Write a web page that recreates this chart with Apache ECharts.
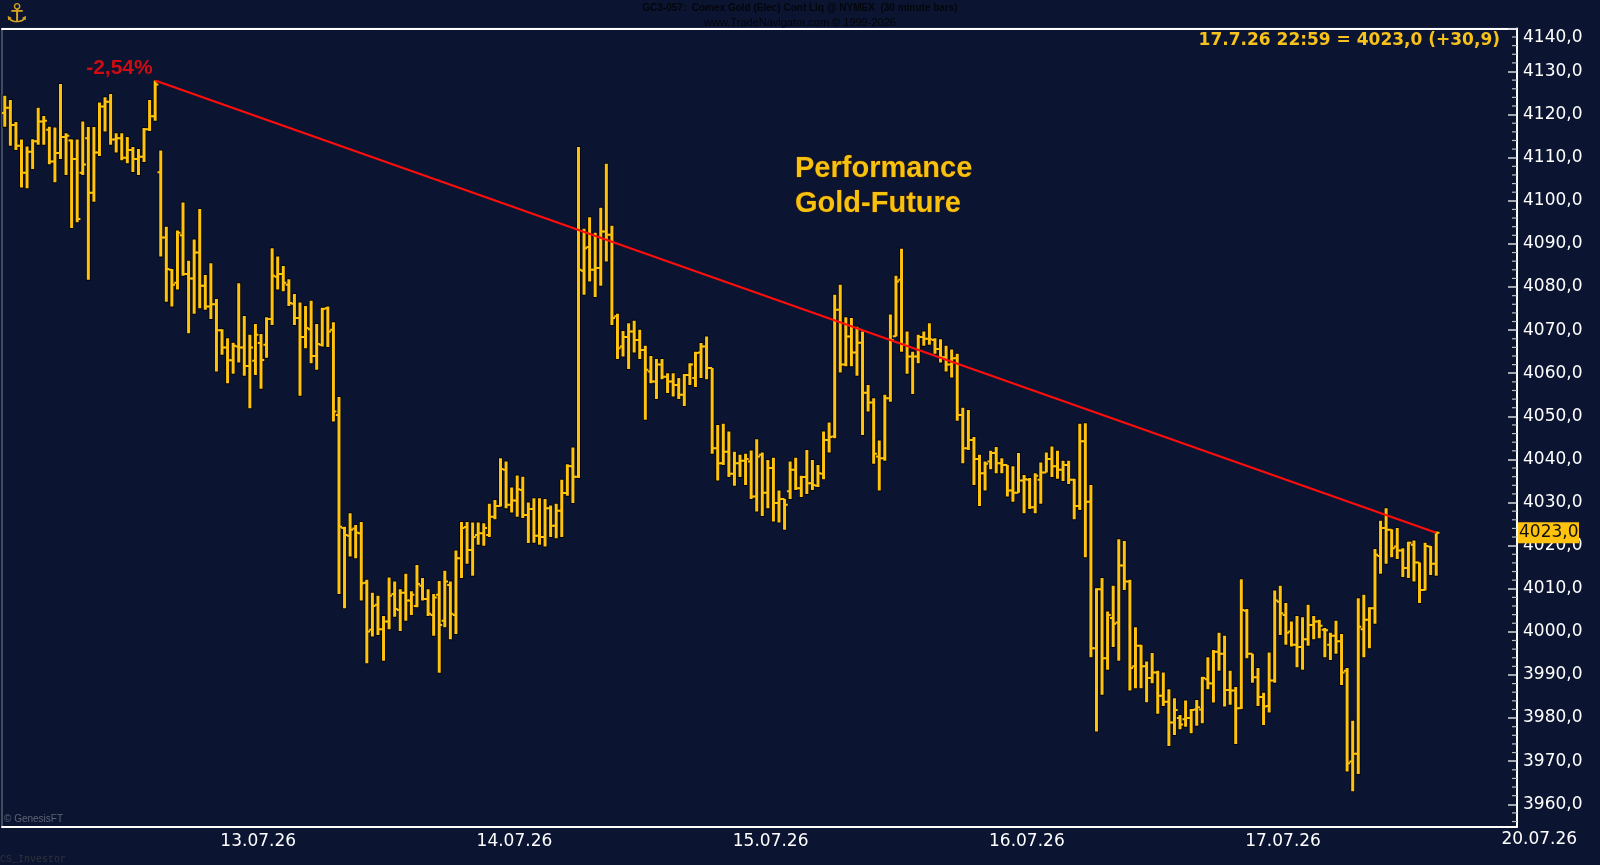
<!DOCTYPE html>
<html>
<head>
<meta charset="utf-8">
<script src="https://cdn.jsdelivr.net/npm/echarts@6/dist/echarts.min.js"></script>
<style>
html,body{margin:0;padding:0;background:#0b1531;}
#main{width:1600px;height:865px;}
</style>
</head>
<body>
<div id="main"></div>
<script>
// ---------- data (30 minute OHLC bars, Comex Gold) ----------
const opens = [
4120.4,4121.6,4117.6,4112.8,4106.5,4111.4,4113.8,4118.4,4116.5,4109.1,
4111.1,4114.8,4114.0,4109.7,4106.5,4114.5,4101.9,4111.2,4121.9,4123.0,
4114.2,4114.5,4110.0,4111.8,4109.7,4110.2,4116.6,4119.6,4106.6,4091.5,
4084.0,4081.0,4092.0,4083.0,4082.0,4088.0,4080.3,4075.5,4076.0,4070.0,
4066.0,4063.0,4066.2,4066.0,4061.7,4062.9,4067.0,4066.6,4072.6,4082.4,
4083.0,4080.5,4076.1,4072.8,4068.4,4070.2,4064.0,4066.6,4075.1,4070.1,
4050.3,4024.1,4022.3,4024.0,4022.9,4011.4,4000.5,4006.3,4000.6,4002.4,
4008.8,4005.1,4009.1,4007.3,4006.0,4010.7,4007.6,4003.9,4008.6,4002.6,
4010.9,4003.9,4017.1,4024.3,4019.0,4022.5,4022.9,4022.5,4026.7,4029.2,
4037.6,4029.5,4030.5,4032.9,4027.1,4028.5,4022.3,4022.0,4028.7,4024.6,
4028.1,4032.2,4038.4,4036.0,4083.8,4089.3,4084.0,4084.4,4092.9,4092.1,
4073.2,4066.2,4068.4,4069.7,4067.7,4065.4,4060.4,4058.1,4062.0,4059.2,
4058.1,4057.3,4055.0,4059.6,4058.9,4064.8,4066.2,4061.2,4042.6,4039.1,
4041.8,4036.7,4039.1,4039.7,4039.5,4031.4,4041.1,4032.3,4038.0,4029.9,
4030.8,4032.6,4037.6,4033.3,4035.9,4034.5,4033.9,4036.7,4044.5,4045.3,
4074.7,4062.0,4068.5,4064.8,4067.1,4055.5,4053.2,4040.7,4040.3,4054.2,
4068.6,4081.7,4066.6,4063.9,4063.9,4068.4,4068.0,4067.7,4065.6,4063.7,
4062.0,4063.5,4050.3,4042.6,4044.5,4040.1,4036.8,4039.5,4041.5,4039.1,
4038.7,4032.8,4032.3,4035.1,4035.3,4028.9,4035.3,4037.0,4040.1,4038.4,
4037.6,4038.7,4035.3,4029.2,4044.2,4030.2,3996.2,4009.9,3993.9,4003.2,
4002.2,4015.4,4011.7,3992.0,3996.8,3992.0,3989.3,3990.6,3985.2,3983.8,
3979.0,3980.0,3979.7,3980.0,3982.0,3982.0,3989.0,3988.0,3995.4,3994.9,
3986.5,3986.4,3982.3,4004.9,3994.9,3989.5,3984.9,3982.8,3988.7,4007.0,
4003.9,4000.1,3997.0,3996.5,3998.3,4001.6,4002.4,4000.5,3997.0,3999.1,
3997.8,3991.0,3969.9,3971.7,4000.6,4002.8,4005.5,4017.6,4024.1,4023.7,
4019.8,4018.9,4014.8,4020.2,4016.1,4009.7,4019.8,4015.8
];
const highs = [
4124.4,4123.4,4118.3,4114.2,4112.6,4114.3,4121.6,4119.7,4117.2,4117.0,
4127.1,4115.7,4114.2,4114.2,4118.4,4117.1,4117.1,4122.8,4124.0,4124.8,
4115.7,4115.7,4114.8,4112.5,4112.0,4116.9,4123.4,4127.9,4111.7,4094.0,
4084.2,4093.1,4099.6,4086.1,4091.0,4098.1,4082.8,4085.5,4077.2,4070.2,
4068.1,4067.1,4080.9,4073.3,4068.9,4071.4,4069.1,4073.0,4089.0,4087.1,
4084.9,4081.8,4078.4,4076.4,4075.6,4076.8,4071.4,4075.2,4075.5,4071.8,
4054.5,4024.4,4027.5,4024.8,4025.5,4012.1,4009.1,4008.4,4003.7,4012.6,
4011.7,4009.9,4013.5,4009.4,4015.5,4012.5,4009.9,4008.8,4011.8,4014.2,
4011.7,4018.9,4025.5,4025.5,4025.4,4025.4,4025.2,4029.7,4030.6,4040.3,
4039.5,4033.5,4036.3,4036.0,4030.0,4031.0,4031.0,4030.8,4029.3,4029.7,
4035.3,4038.9,4042.8,4112.5,4093.5,4096.2,4092.6,4098.4,4108.6,4094.2,
4073.8,4069.8,4071.6,4072.2,4070.1,4066.4,4064.0,4063.3,4063.3,4060.0,
4060.0,4058.9,4059.8,4062.3,4065.0,4067.0,4068.5,4061.2,4048.0,4048.3,
4046.5,4041.8,4041.1,4041.3,4042.1,4044.7,4041.6,4039.9,4040.4,4032.8,
4030.8,4039.5,4040.4,4036.2,4042.2,4039.9,4038.7,4046.5,4048.6,4078.2,
4080.5,4073.0,4072.8,4070.8,4069.7,4057.3,4054.2,4044.4,4055.0,4073.6,
4082.6,4088.9,4069.7,4065.0,4068.9,4069.7,4071.6,4068.1,4067.9,4066.4,
4065.5,4064.5,4052.0,4051.5,4045.2,4041.1,4039.5,4042.0,4042.9,4040.3,
4038.7,4038.4,4041.5,4036.4,4035.7,4036.8,4039.3,4041.6,4043.0,4042.0,
4039.7,4039.7,4035.5,4048.3,4048.4,4034.1,4010.1,4012.5,4004.7,4010.7,
4021.5,4021.1,4012.1,4001.1,3997.0,3993.1,3995.1,3991.0,3990.6,3986.7,
3984.6,3980.7,3984.1,3982.1,3984.2,3989.6,3994.1,3995.8,3999.8,3999.1,
3991.0,3987.2,4012.2,4005.3,3994.9,3991.6,3985.9,3995.2,4009.6,4010.7,
4006.7,4002.4,4003.7,4003.4,4006.3,4003.7,4002.8,4000.9,3999.8,4002.6,
3999.5,3991.6,3979.4,4007.8,4008.6,4005.7,4019.2,4025.8,4028.7,4023.8,
4024.1,4019.4,4020.9,4021.2,4016.1,4020.7,4019.9,4023.3
];
const lows = [
4117.2,4112.8,4111.8,4103.1,4102.9,4107.4,4113.0,4113.0,4108.5,4104.3,
4109.7,4106.0,4093.7,4095.0,4106.0,4081.7,4099.8,4110.4,4116.1,4113.0,
4111.2,4109.4,4108.7,4106.7,4106.0,4109.0,4116.2,4118.6,4087.1,4076.6,
4075.5,4079.4,4082.6,4069.3,4073.8,4075.1,4074.7,4072.6,4060.4,4064.3,
4057.7,4059.9,4062.5,4059.4,4051.9,4059.6,4056.4,4063.6,4071.2,4079.4,
4079.0,4075.6,4071.2,4054.8,4065.8,4062.3,4060.8,4066.2,4066.1,4048.8,
4008.8,4005.5,4017.5,4017.1,4007.3,3992.7,3998.9,3999.3,3993.3,4000.6,
4003.5,4000.2,4002.6,4003.9,4005.7,4007.3,4003.7,3999.1,3990.5,4001.1,
3998.3,3999.5,4012.5,4015.8,4013.0,4020.2,4020.0,4022.0,4026.1,4029.1,
4028.7,4027.7,4026.7,4026.4,4020.6,4020.7,4020.2,4019.8,4022.0,4021.7,
4022.0,4031.6,4029.9,4035.7,4078.2,4081.3,4077.7,4080.3,4085.9,4071.2,
4063.3,4063.9,4061.0,4064.8,4063.3,4049.2,4057.7,4054.0,4058.6,4055.4,
4054.6,4054.0,4052.4,4057.3,4056.8,4058.9,4058.6,4041.3,4035.1,4038.7,
4035.9,4033.9,4035.9,4034.1,4030.8,4027.9,4026.9,4028.7,4025.6,4025.4,
4023.7,4030.8,4032.9,4031.3,4032.0,4032.9,4033.6,4035.4,4041.6,4044.9,
4060.2,4061.6,4061.6,4059.4,4045.7,4051.1,4039.0,4032.8,4039.7,4053.4,
4068.5,4065.0,4059.9,4055.2,4062.3,4066.4,4066.6,4064.5,4062.5,4060.4,
4059.0,4049.0,4039.1,4042.2,4034.1,4029.2,4032.8,4037.7,4036.8,4036.8,
4031.4,4030.2,4032.3,4027.5,4028.5,4027.5,4029.7,4037.0,4035.9,4035.5,
4035.0,4034.3,4026.1,4028.3,4017.3,3994.1,3976.9,3985.4,3991.2,3996.5,
3993.3,4009.7,3986.4,3986.9,3986.9,3983.7,3988.1,3981.0,3982.8,3973.5,
3976.1,3977.4,3978.0,3976.5,3978.2,3978.8,3986.7,3983.6,3991.0,3982.7,
3983.1,3974.0,3982.1,3993.9,3988.2,3982.8,3978.4,3981.3,3988.2,3999.3,
3997.0,3996.6,3991.8,3991.2,3996.8,3998.3,3998.5,3994.1,3993.5,3994.9,
3987.7,3967.6,3963.0,3967.0,3994.1,3996.2,4001.9,4013.5,4015.8,4017.3,
4016.9,4012.7,4012.5,4011.7,4006.7,4009.6,4013.2,4013.0
];
const closes = [
4121.6,4117.6,4112.8,4106.5,4111.4,4113.8,4118.4,4118.6,4109.1,4111.1,
4114.8,4115.1,4109.7,4095.8,4108.4,4101.9,4111.2,4121.9,4123.0,4114.2,
4114.5,4110.0,4111.8,4109.7,4110.2,4116.6,4119.6,4127.0,4091.5,4084.2,
4080.5,4092.6,4083.0,4082.0,4088.0,4080.3,4075.5,4076.0,4070.0,4066.0,
4063.0,4066.4,4066.0,4061.7,4066.0,4068.9,4063.1,4072.6,4082.6,4083.0,
4081.0,4076.3,4072.8,4068.4,4070.5,4064.0,4066.8,4074.9,4069.7,4051.1,
4024.4,4022.5,4023.7,4023.0,4011.3,4000.1,4006.0,4000.6,4002.4,4008.4,
4005.3,4009.1,4007.3,4008.6,4011.1,4007.6,4004.2,4008.0,4001.6,4011.7,
4004.2,4017.1,4024.1,4019.0,4022.0,4022.9,4024.1,4026.7,4029.2,4037.8,
4029.5,4030.5,4033.1,4027.1,4028.5,4022.3,4022.0,4028.7,4024.6,4028.1,
4032.2,4038.5,4036.0,4084.0,4089.0,4084.0,4084.4,4092.9,4092.1,4072.8,
4065.8,4068.4,4069.7,4067.7,4065.4,4060.8,4058.1,4062.0,4059.2,4058.1,
4057.3,4055.0,4059.6,4062.0,4064.7,4066.2,4061.2,4042.6,4039.1,4041.8,
4036.7,4039.1,4039.7,4040.1,4031.4,4040.7,4032.3,4038.0,4029.9,4030.8,
4029.5,4037.6,4033.3,4035.9,4034.5,4034.1,4036.8,4044.5,4045.2,4074.7,
4062.0,4068.5,4064.8,4067.1,4055.5,4053.2,4041.3,4040.3,4054.2,4067.7,
4081.3,4066.6,4063.9,4063.9,4068.4,4068.0,4067.9,4065.6,4063.7,4062.0,
4063.5,4050.3,4042.6,4044.5,4040.1,4036.8,4039.0,4041.5,4039.1,4038.7,
4032.8,4032.3,4035.1,4035.4,4028.9,4036.2,4037.0,4040.1,4038.4,4037.6,
4038.7,4035.3,4029.2,4044.2,4030.2,3996.2,4009.9,3993.9,4003.9,4001.9,
4015.4,4011.7,3991.6,3996.8,3992.0,3989.3,3990.6,3985.2,3983.8,3979.0,
3981.9,3978.5,3980.0,3981.9,3982.5,3989.3,3988.1,3995.4,3994.9,3986.5,
3986.4,3982.3,4005.1,3994.9,3989.5,3984.9,3982.7,3988.7,4007.3,4004.3,
3999.8,3997.0,3996.5,3998.3,4001.6,4002.4,4001.4,4000.4,3999.1,3997.8,
3990.6,3969.5,3971.7,4001.2,4002.8,4005.5,4017.9,4024.1,4023.7,4019.4,
4018.9,4014.8,4020.7,4016.1,4009.7,4019.9,4015.8,4023.0
];
// x-axis day marks (bar-slot positions of session starts) and their labels
const dayTicks  = [46, 92, 138, 184, 230, 276];
const dayLabels = ['13.07.26', '14.07.26', '15.07.26', '16.07.26', '17.07.26', '20.07.26'];
// price axis labels
const priceTicks = [3960,3970,3980,3990,4000,4010,4020,4030,4040,4050,4060,4070,4080,4090,4100,4110,4120,4130,4140];
// trend line: from the high of this bar to the close of the last bar
const trendFrom = 27;
const lastStamp = '17.7.26 22:59';
const dayChange = 30.9;

// ---------- layout / style ----------
const BG = '#0b1531';
const GOLD = '#ffc20e';
const AXIS_FONT = 'DejaVu Sans';
const yMin = 3954.8, yMax = 4140;
const slots = 272;

const fmt = v => v.toFixed(1).replace('.', ',');
const trendTo = closes.length - 1;
const bars = opens.map((o, i) => [i + 0.5, o, highs[i], lows[i], closes[i]]);
const pct = (closes[trendTo] / highs[trendFrom] - 1) * 100;
const pctText = pct.toFixed(2).replace('.', ',') + '%';

const minorTicks = [];
for (let v = 3956; v <= 4140; v += 2) { if (v % 10 !== 0) minorTicks.push([slots, v]); }

const chart = echarts.init(document.getElementById('main'));

const option = {
  backgroundColor: BG,
  animation: false,
  grid: {
    left: 2, top: 28.4, width: 1515, height: 798.3, containLabel: false, outerBoundsMode: 'none',
    show: true, borderColor: '#7d8290', borderWidth: 1, backgroundColor: 'transparent'
  },
  xAxis: [
    {
      type: 'value', min: 0, max: slots, interval: 46, position: 'bottom',
      axisLine: { show: true, onZero: false, lineStyle: { color: '#ffffff', width: 2 } },
      axisTick: { show: false },
      splitLine: { show: false },
      axisLabel: {
        color: '#ffffff', fontFamily: AXIS_FONT, fontSize: 17, margin: 6,
        formatter: v => {
          const k = dayTicks.indexOf(Math.round(v));
          return (k >= 0 && Math.abs(v - dayTicks[k]) < 1e-6) ? dayLabels[k] : '';
        }
      }
    },
    {
      type: 'value', min: 0, max: slots, position: 'top',
      axisLine: { show: true, onZero: false, lineStyle: { color: '#ffffff', width: 2 } },
      axisTick: { show: false }, axisLabel: { show: false }, splitLine: { show: false }
    }
  ],
  yAxis: {
    type: 'value', min: yMin, max: yMax, position: 'right',
    axisLine: { show: true, onZero: false, lineStyle: { color: '#ffffff', width: 2 } },
    axisTick: { show: true, inside: true, length: 9, customValues: priceTicks,
                lineStyle: { color: '#d8d8d8', width: 1.5 } },
    splitLine: { show: false },
    axisLabel: {
      customValues: priceTicks, margin: 6,
      color: '#ffffff', fontFamily: AXIS_FONT, fontSize: 17,
      formatter: v => v === yMax ? '{top|' + fmt(v) + '}' : fmt(v),
      rich: { top: { padding: [18, 0, 0, 0], color: '#ffffff', fontFamily: AXIS_FONT, fontSize: 17 } }
    }
  },
  series: [
    {
      type: 'custom', name: 'GC', xAxisIndex: 0, yAxisIndex: 0, clip: true, silent: true,
      encode: { x: 0, y: [1, 2, 3, 4] },
      data: bars,
      renderItem: (params, api) => {
        const x = api.value(0);
        const pH = api.coord([x, api.value(2)]);
        const pL = api.coord([x, api.value(3)]);
        const pO = api.coord([x, api.value(1)]);
        const pC = api.coord([x, api.value(4)]);
        return {
          type: 'group',
          children: [
            { type: 'line', shape: { x1: pH[0], y1: pH[1] - 1, x2: pL[0], y2: pL[1] + 1 },
              style: { stroke: '#03060e', lineWidth: 4.6 } },
            { type: 'line', shape: { x1: pH[0], y1: pH[1], x2: pL[0], y2: pL[1] },
              style: { stroke: GOLD, lineWidth: 3 } },
            { type: 'line', shape: { x1: pO[0] - 3.2, y1: pO[1], x2: pO[0], y2: pO[1] },
              style: { stroke: GOLD, lineWidth: 2 } },
            { type: 'line', shape: { x1: pC[0], y1: pC[1], x2: pC[0] + 3.2, y2: pC[1] },
              style: { stroke: GOLD, lineWidth: 2 } }
          ]
        };
      },
      z: 2
    },
    {
      type: 'custom', name: 'minorTicks', xAxisIndex: 0, yAxisIndex: 0, clip: false, silent: true,
      encode: { x: 0, y: 1 },
      data: minorTicks,
      renderItem: (params, api) => {
        const p = api.coord([api.value(0), api.value(1)]);
        return { type: 'line', shape: { x1: p[0] - 5, y1: p[1], x2: p[0], y2: p[1] },
                 style: { stroke: '#bdbdbd', lineWidth: 1.2 } };
      },
      z: 3
    },
    {
      type: 'line', name: 'trend', xAxisIndex: 0, yAxisIndex: 0, silent: true,
      data: [[trendFrom + 0.5, highs[trendFrom]], [trendTo + 0.5, closes[trendTo]]],
      symbol: 'none', lineStyle: { color: '#ff0d0d', width: 2.2 }, z: 5
    },
    {
      type: 'scatter', name: 'pct', xAxisIndex: 0, yAxisIndex: 0, silent: true,
      symbolSize: 1, itemStyle: { color: 'rgba(0,0,0,0)' }, z: 6,
      data: [{
        value: [trendFrom + 0.5, highs[trendFrom]],
        label: {
          show: true, formatter: pctText, position: 'left', distance: 2, offset: [0, -12],
          color: '#ff0a0a', fontWeight: 'bold', fontSize: 21, fontFamily: 'Liberation Sans'
        }
      }]
    }
  ]
};
chart.setOption(option);

// positions from the library's own scales
const yLast = chart.convertToPixel({ yAxisIndex: 0 }, closes[trendTo]);
const xRight = chart.convertToPixel({ xAxisIndex: 0 }, slots);
const xNext = chart.convertToPixel({ xAxisIndex: 0 }, dayTicks[dayTicks.length - 1]);
const yBottom = chart.convertToPixel({ yAxisIndex: 0 }, yMin);

chart.setOption({
  graphic: [
    { type: 'text', x: 800, y: 8.5, silent: true,
      style: { text: 'GC3-057:  Comex Gold (Elec) Cont Liq @ NYMEX  (30 minute bars)',
               fill: '#04060b', font: 'bold 10px "Liberation Sans"', textAlign: 'center', textVerticalAlign: 'middle' } },
    { type: 'text', x: 800, y: 23, silent: true,
      style: { text: 'www.TradeNavigator.com \u00a9 1999-2026',
               fill: '#04060b', font: '11px "Liberation Sans"', textAlign: 'center', textVerticalAlign: 'middle' } },
    { type: 'text', x: 17, y: 15, silent: true,
      style: { text: '\u2693', fill: '#d9a520', font: '26px "DejaVu Sans"', textAlign: 'center', textVerticalAlign: 'middle' } },
    { type: 'text', x: 1500, y: 40.5, silent: true, z: 10,
      style: { text: lastStamp + ' = ' + fmt(closes[trendTo]) + ' (+' + fmt(dayChange) + ')',
               fill: '#f8c21c', font: 'bold 17px "DejaVu Sans"', textAlign: 'right', textVerticalAlign: 'middle' } },
    { type: 'text', x: 795, y: 151.5, silent: true, z: 10,
      style: { text: 'Performance\nGold-Future', fill: '#f7c20f', font: 'bold 29px "Liberation Sans"',
               lineHeight: 35, textAlign: 'left', textVerticalAlign: 'top',
               stroke: '#4a2200', lineWidth: 0.8 } },
    { type: 'text', x: 4, y: 819, silent: true, z: 10,
      style: { text: '\u00a9 GenesisFT', fill: '#5e6475', font: '10px "Liberation Sans"', textAlign: 'left', textVerticalAlign: 'middle' } },
    { type: 'text', x: 0, y: 859.5, silent: true,
      style: { text: 'CS_Investor', fill: '#30323c', font: '10px "Liberation Mono"', textAlign: 'left', textVerticalAlign: 'middle' } },
    { type: 'rect', silent: true, z: 20,
      shape: { x: xRight + 1, y: yLast - 10.5, width: 61, height: 21 },
      style: { fill: GOLD } },
    { type: 'text', x: xRight + 2, y: yLast, silent: true, z: 21,
      style: { text: fmt(closes[trendTo]), fill: '#111111', font: '17px "DejaVu Sans"', textAlign: 'left', textVerticalAlign: 'middle' } },
    { type: 'text', x: xNext, y: yBottom + 13.3, silent: true,
      style: { text: dayLabels[dayLabels.length - 1], fill: '#ffffff', font: '17px "DejaVu Sans"', textAlign: 'center', textVerticalAlign: 'middle' } }
  ]
});
</script>
</body>
</html>
